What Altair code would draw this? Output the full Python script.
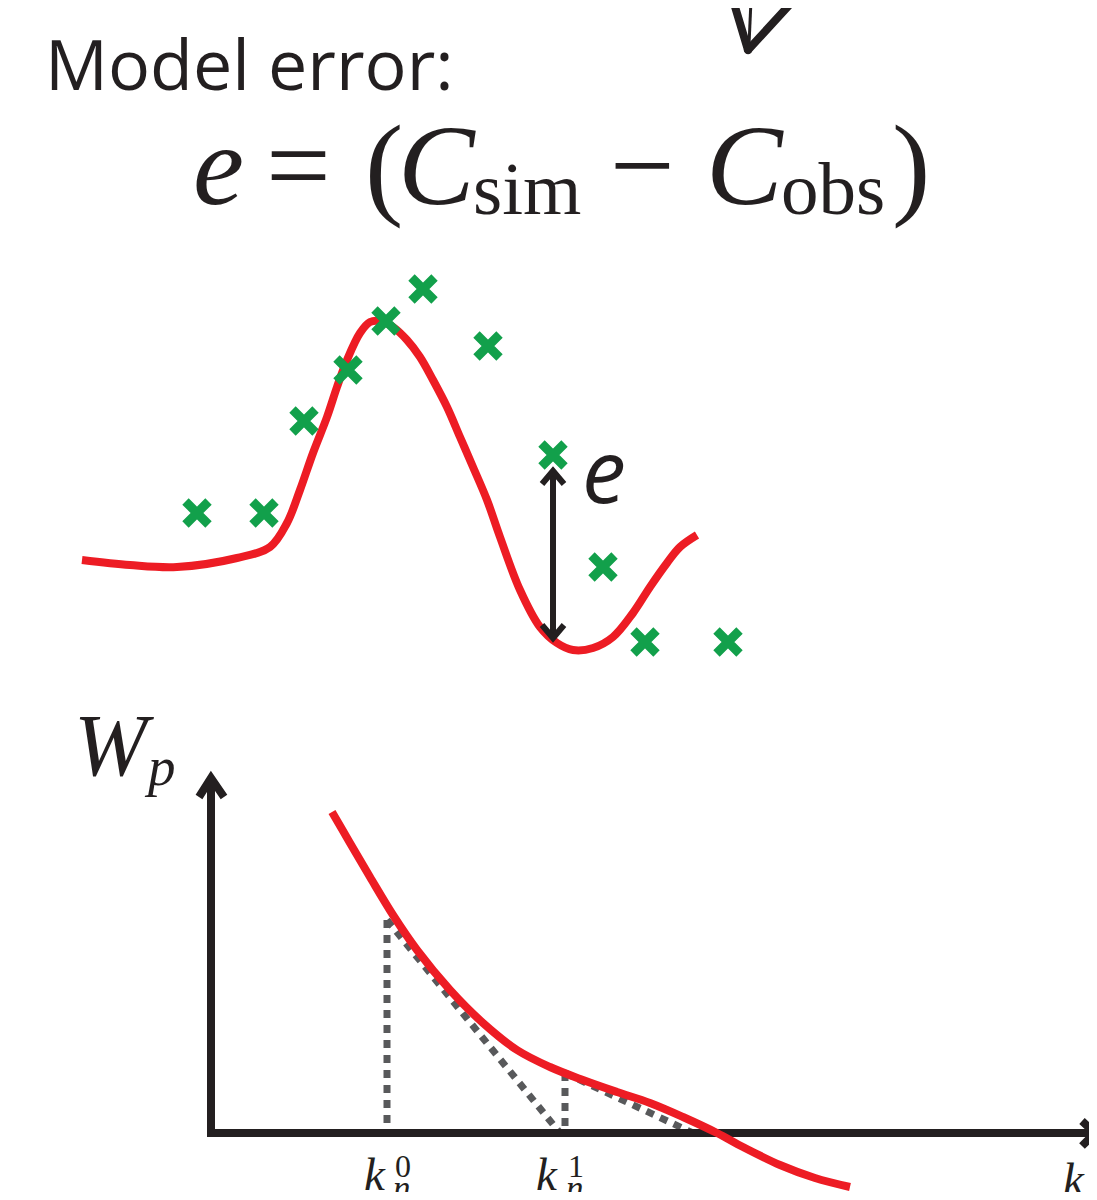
import altair as alt
import pandas as pd

# ---------- top panel: simulated concentration (red curve) ----------
sim_x = [82, 130, 177, 237, 270, 287, 300, 313, 327, 337, 347, 360, 370, 380, 393, 407,
         420, 433, 447, 460, 473, 487, 500, 520, 540, 557, 573, 593, 613, 633, 650, 667, 680, 697]
sim_y = [560, 565, 567, 558, 547, 523, 490, 453, 417, 387, 360, 333, 322, 321, 327, 340,
         357, 380, 407, 437, 467, 500, 537, 590, 627, 643, 650, 648, 637, 613, 587, 563, 547, 535]

# observations (green crosses)
obs_x = [197, 264, 304, 348, 386, 423, 488, 553, 603, 645, 728]
obs_y = [513, 513, 421, 370, 321, 289, 346, 455, 567, 642, 642]

# ---------- bottom panel: W_p curve ----------
wp_x = [332, 350, 370, 393, 417, 450, 483, 517, 550, 583, 617, 650, 683, 717, 743, 780, 815, 850]
wp_y = [812, 843, 877, 915, 950, 990, 1023, 1050, 1067, 1080, 1092, 1103, 1117, 1133, 1147, 1165, 1178, 1187]

# dotted construction lines (segment id, x, y)
dot_seg = ["a", "a", "b", "b", "c", "c", "d", "d"]
dot_x = [387, 387, 387, 560, 565, 565, 565, 693]
dot_y = [920, 1133, 920, 1133, 1073, 1133, 1073, 1133]

# black axis arrows (segment id, x, y)
ax_seg = ["ys", "ys", "yh", "yh", "yh", "xs", "xs", "xh", "xh", "xh"]
ax_x = [211, 211, 199, 211, 224, 207, 1097, 1082, 1095, 1082]
ax_y = [1137, 779, 797, 778, 797, 1133, 1133, 1121, 1133, 1146]

# error double arrow
err_seg = ["s", "s", "t", "t", "t", "b", "b", "b"]
err_x = [553, 553, 542, 553, 564, 542, 553, 564]
err_y = [473, 636, 484, 471, 484, 625, 638, 625]

# hand-drawn scribble at the top
scr_seg = ["l", "l", "r", "r"]
scr_x = [733, 748, 793, 748]
scr_y = [0, 50, 1, 50]
thin_x = [751, 749]
thin_y = [0, 45]

# text
sans_txt = ["Model error:"]
sans_x = [45]
sans_y = [90]
sans_fs = [70]

sansi_txt = ["e"]
sansi_x = [582]
sansi_y = [503]
sansi_fs = [88]

seri_txt = ["e", "C", "C", "W", "p", "k", "k", "k", "n", "n"]
seri_x = [193, 398, 706, 74, 148, 364, 536, 1063, 393, 566]
seri_y = [204, 204, 204, 775, 785, 1190, 1190, 1195, 1200, 1200]
seri_fs = [115, 115, 115, 88, 55, 47, 47, 47, 35, 35]

serr_txt = ["=", "(", "sim", "\u2212", "obs", ")", "0", "1"]
serr_x = [266, 365, 473, 610, 781, 892, 395, 568]
serr_y = [204, 204, 214, 204, 214, 204, 1177, 1177]
serr_fs = [115, 115, 75, 115, 75, 115, 32, 32]

RED = "#ed1c24"
GREEN = "#12a04b"
BLACK = "#231f20"
GREY = "#58595b"

W, H = 1081, 1184
xs = alt.Scale(domain=[8, 8 + W], nice=False, zero=False)
ys = alt.Scale(domain=[8, 8 + H], reverse=True, nice=False, zero=False)


def X():
    return alt.X("x:Q", scale=xs, axis=None)


def Y():
    return alt.Y("y:Q", scale=ys, axis=None)


def seq_df(xv, yv, seg=None):
    d = pd.DataFrame({"x": xv, "y": yv})
    d["i"] = range(len(d))
    d["g"] = seg if seg is not None else ["0"] * len(d)
    return d


def lines(df, color, width, dash=None, cap="butt"):
    kw = dict(color=color, strokeWidth=width, strokeCap=cap, strokeJoin="miter")
    if dash is not None:
        kw["strokeDash"] = dash
    return alt.Chart(df).mark_line(**kw).encode(
        x=X(), y=Y(), detail="g:N", order=alt.Order("i:Q")
    )


def texts(txt, xv, yv, fs, font, style):
    df = pd.DataFrame({"t": txt, "x": xv, "y": yv, "fs": fs})
    return alt.Chart(df).mark_text(
        font=font, fontStyle=style, align="left", baseline="alphabetic", color=BLACK
    ).encode(x=X(), y=Y(), text="t:N", size=alt.Size("fs:Q", scale=None))


sim_line = alt.Chart(seq_df(sim_x, sim_y)).mark_line(
    color=RED, strokeWidth=8, interpolate="catmull-rom", strokeCap="butt"
).encode(x=X(), y=Y(), order=alt.Order("i:Q"))

wp_line = alt.Chart(seq_df(wp_x, wp_y)).mark_line(
    color=RED, strokeWidth=8, interpolate="catmull-rom", strokeCap="butt"
).encode(x=X(), y=Y(), order=alt.Order("i:Q"))

obs_pts = alt.Chart(pd.DataFrame({"x": obs_x, "y": obs_y})).mark_point(
    shape="M-1,-1L1,1M-1,1L1,-1", size=530, filled=False, stroke=GREEN,
    strokeWidth=9, opacity=1, strokeCap="butt"
).encode(x=X(), y=Y())

dots = lines(seq_df(dot_x, dot_y, dot_seg), GREY, 7, dash=[8, 7])
axes = lines(seq_df(ax_x, ax_y, ax_seg), BLACK, 8)
err = lines(seq_df(err_x, err_y, err_seg), BLACK, 6)
scr = lines(seq_df(scr_x, scr_y, scr_seg), BLACK, 8, cap="round")
thin = lines(seq_df(thin_x, thin_y), BLACK, 3)

chart = alt.layer(
    dots,
    axes,
    wp_line,
    sim_line,
    err,
    obs_pts,
    scr,
    thin,
    texts(sans_txt, sans_x, sans_y, sans_fs, "Open Sans", "normal"),
    texts(sansi_txt, sansi_x, sansi_y, sansi_fs, "Open Sans", "italic"),
    texts(seri_txt, seri_x, seri_y, seri_fs, "Liberation Serif", "italic"),
    texts(serr_txt, serr_x, serr_y, serr_fs, "Liberation Serif", "normal"),
).properties(
    width=W, height=H, padding=0, autosize=alt.AutoSizeParams(type="none")
).configure_view(stroke=None)

chart.save("out.html", embed_options={"renderer": "svg", "actions": False})
